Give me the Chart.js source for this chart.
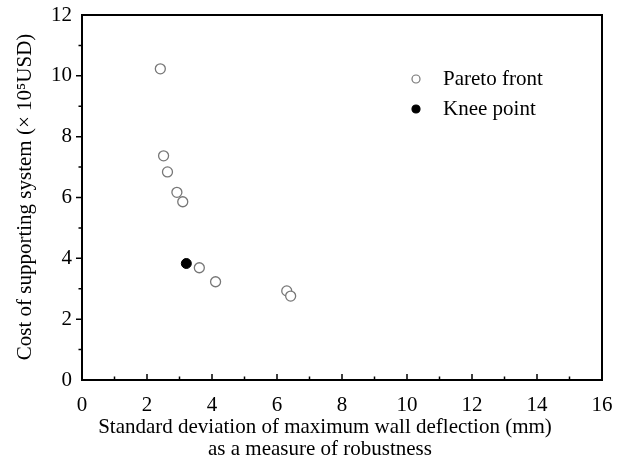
<!DOCTYPE html>
<html>
<head>
<meta charset="utf-8">
<script src="https://cdn.jsdelivr.net/npm/chart.js@4"></script>
<style>
  body { margin: 0; background: #fff; }
  #wrap { width: 627px; height: 461px; }
</style>
</head>
<body>
<div id="wrap"><canvas id="chart" width="627" height="461"></canvas></div>
<script>
// values
const paretoX = [2.41, 2.51, 2.63, 2.92, 3.10, 3.61, 4.11, 6.30, 6.42];
const paretoY = [10.23, 7.37, 6.84, 6.17, 5.86, 3.69, 3.23, 2.93, 2.76];
const kneeX = [3.21];
const kneeY = [3.83];
const xTicks = [0, 2, 4, 6, 8, 10, 12, 14, 16];
const yTicks = [0, 2, 4, 6, 8, 10, 12];

const FONT = '"Liberation Serif", "Times New Roman", serif';

function toPoints(xs, ys) {
    return xs.map((x, i) => ({ x: x, y: ys[i] }));
}

// frame, tick marks, axis titles and legend
const decor = {
    id: 'decor',
    afterDraw(chart) {
        const ctx = chart.ctx;
        const a = chart.chartArea;
        const xs = chart.scales.x;
        const ys = chart.scales.y;
        ctx.save();
        ctx.strokeStyle = '#000';
        ctx.lineWidth = 2;
        ctx.strokeRect(a.left, a.top, a.right - a.left, a.bottom - a.top);

        ctx.lineWidth = 1.5;
        ctx.beginPath();
        // x ticks point inward, minor every 1
        for (let v = 1; v < 16; v++) {
            const px = xs.getPixelForValue(v);
            const len = v % 2 === 0 ? 6 : 3.5;
            ctx.moveTo(px, a.bottom);
            ctx.lineTo(px, a.bottom - len);
        }
        // y ticks point outward
        for (let v = 1; v < 12; v++) {
            const py = ys.getPixelForValue(v);
            const len = v % 2 === 0 ? 6 : 3.5;
            ctx.moveTo(a.left, py);
            ctx.lineTo(a.left - len, py);
        }
        ctx.stroke();

        ctx.fillStyle = '#000';
        ctx.font = '21px ' + FONT;
        ctx.textAlign = 'center';
        ctx.textBaseline = 'middle';
        ctx.fillText('Standard deviation of maximum wall deflection (mm)', 325, 427);
        ctx.fillText('as a measure of robustness', 320, 449);

        ctx.save();
        ctx.translate(25, 197);
        ctx.rotate(-Math.PI / 2);
        ctx.fillText('Cost of supporting system (\u00d7 10\u2075USD)', 0, 0);
        ctx.restore();

        // legend
        const items = chart.data.datasets;
        ctx.font = '21px ' + FONT;
        ctx.textAlign = 'left';
        items.forEach((ds, i) => {
            const y = 79 + i * 30;
            ctx.beginPath();
            ctx.arc(416, y, 4, 0, Math.PI * 2);
            ctx.fillStyle = ds.pointBackgroundColor;
            ctx.fill();
            ctx.lineWidth = 1.2;
            ctx.strokeStyle = ds.pointBorderColor;
            ctx.stroke();
            ctx.fillStyle = '#000';
            ctx.fillText(ds.label, 443, y);
        });
        ctx.restore();
    }
};

new Chart(document.getElementById('chart'), {
    type: 'scatter',
    data: {
        datasets: [
            {
                label: 'Pareto front',
                data: toPoints(paretoX, paretoY),
                pointRadius: 5,
                pointBorderWidth: 1.3,
                pointBorderColor: '#777',
                pointBackgroundColor: '#fff'
            },
            {
                label: 'Knee point',
                data: toPoints(kneeX, kneeY),
                pointRadius: 5,
                pointBorderWidth: 1,
                pointBorderColor: '#000',
                pointBackgroundColor: '#000'
            }
        ]
    },
    options: {
        responsive: false,
        animation: false,
        devicePixelRatio: 1,
        layout: { padding: { top: 15, right: 25, left: 0, bottom: 0 } },
        plugins: {
            legend: { display: false },
            tooltip: { enabled: false }
        },
        scales: {
            x: {
                type: 'linear',
                min: 0,
                max: 16,
                afterFit: (s) => { s.height = 81; },
                afterBuildTicks: (s) => { s.ticks = xTicks.map(v => ({ value: v })); },
                grid: { display: false },
                border: { display: false },
                ticks: {
                    color: '#000',
                    font: { family: FONT, size: 21 },
                    padding: 5,
                    maxRotation: 0
                }
            },
            y: {
                type: 'linear',
                min: 0,
                max: 12,
                afterFit: (s) => { s.width = 82; },
                afterBuildTicks: (s) => { s.ticks = yTicks.map(v => ({ value: v })); },
                grid: { display: false },
                border: { display: false },
                ticks: {
                    color: '#000',
                    font: { family: FONT, size: 21 },
                    padding: 2
                }
            }
        }
    },
    plugins: [decor]
});
</script>
</body>
</html>
